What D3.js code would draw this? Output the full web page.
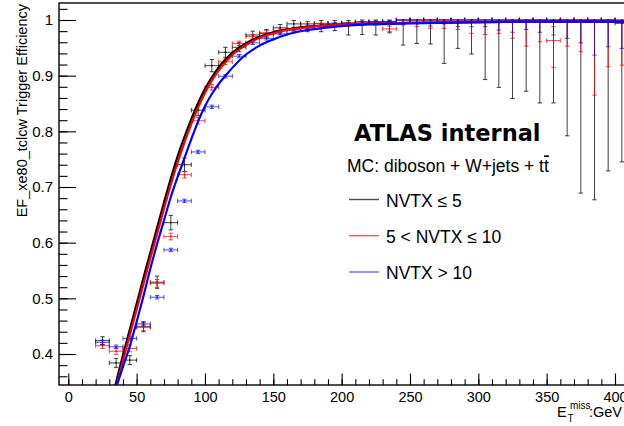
<!DOCTYPE html>
<html>
<head>
<meta charset="utf-8">
<script src="https://cdn.jsdelivr.net/npm/d3@7"></script>
<style>
body { margin:0; background:#fff; }
text { font-family: "Liberation Sans", Arial, Helvetica, sans-serif; fill:#000; }
</style>
</head>
<body>
<div id="chart-area"></div>
<script>

// bin centres (10 GeV bins) and half width
var binCenter = [25,35,45,55,65,75,85,95,105,115,125,135,145,155,165,175,185,195,205,215,
                 225,235,245,255,265,275,285,295,305,315,325,335,345,355,365,375,385,395,405];
var binHalf = 5;

// NVTX <= 5
var effBlack = [0.424,0.384,0.389,0.449,0.529,0.636,0.740,0.838,0.918,0.942,0.951,0.973,0.976,0.986,0.993,0.993,0.994,0.994,0.995,0.997,
                0.997,0.997,1,1,1,1,1,1,1,1,1,1,1,1,1,1,1,1,0.994];
var hiBlack  = [0.007,0.008,0.008,0.009,0.011,0.013,0.012,0.010,0.011,0.009,0.008,0.007,0.007,0.006,0.006,0.004,0.005,0.005,0.004,0.003,
                0.003,0.003,0,0,0,0,0,0,0,0,0,0,0,0,0,0,0,0,0.004];
var loBlack  = [0.007,0.008,0.008,0.009,0.011,0.013,0.012,0.010,0.011,0.009,0.008,0.008,0.008,0.007,0.008,0.014,0.015,0.013,0.022,0.023,
                0.024,0.020,0.045,0.042,0.043,0.078,0.051,0.061,0.107,0.121,0.141,0.128,0.149,0.149,0.208,0.311,0.323,0.271,0.249];

// 5 < NVTX <= 10
var effRed = [0.415,0.405,0.410,0.448,0.527,0.611,0.722,0.819,0.879,0.925,0.958,0.970,0.977,0.981,0.984,0.988,0.991,0.992,0.993,0.994,
              0.995,0.984,1,1,1,1,1,1,1,1,1,1,1,0.963,1,1,1,1,1];
var hiRed  = [0.005,0.006,0.006,0.006,0.007,0.006,0.006,0.006,0.005,0.005,0.004,0.004,0.004,0.003,0.003,0.003,0.003,0.003,0.003,0.003,
              0.003,0.005,0,0,0,0,0,0,0,0,0,0,0,0.025,0,0,0,0,0];
var loRed  = [0.005,0.006,0.006,0.006,0.007,0.006,0.006,0.006,0.005,0.005,0.004,0.004,0.004,0.004,0.004,0.004,0.004,0.004,0.005,0.004,
              0.004,0.005,0.009,0.012,0.015,0.015,0.017,0.024,0.026,0.024,0.033,0.047,0.039,0.048,0.047,0.057,0.135,0.084,0.081];

// NVTX > 10
var effBlue = [0.421,0.413,0.428,0.454,0.502,0.587,0.675,0.763,0.844,0.899,0.935,0.959,0.967,0.975,0.982,0.986,0.989,0.992,0.993,0.995,
               0.996,0.997,1,1,1,1,1,1,1,1,1,1,1,1,1,1,1,1,1];
var hiBlue  = [0.004,0.003,0.003,0.003,0.003,0.003,0.003,0.003,0.003,0.003,0.003,0.003,0.003,0.002,0.002,0.002,0.002,0.002,0.002,0.002,
               0.002,0.002,0,0,0,0,0,0,0,0,0,0,0,0,0,0,0,0,0];
var loBlue  = [0.004,0.003,0.003,0.003,0.003,0.003,0.003,0.003,0.003,0.003,0.003,0.003,0.003,0.002,0.002,0.002,0.002,0.002,0.002,0.002,
               0.002,0.002,0.007,0.007,0.011,0.007,0.012,0.012,0.012,0.018,0.022,0.017,0.022,0.027,0.033,0.041,0.063,0.048,0.051];

// fitted curves
var fitX     = [33,40,45,50,55,60,65,70,75,80,85,90,95,100,105,110,115,120,130,140,150,160,175,195,220,250,300,350,410];
var fitBlack = [0.330,0.398,0.444,0.490,0.537,0.582,0.627,0.672,0.715,0.755,0.790,0.822,0.851,0.876,0.897,0.915,0.929,0.941,0.958,0.970,
                0.978,0.983,0.988,0.991,0.993,0.995,0.996,0.997,0.997];
var fitRed   = [0.320,0.388,0.434,0.480,0.526,0.572,0.616,0.661,0.704,0.744,0.780,0.813,0.843,0.869,0.891,0.909,0.924,0.937,0.955,0.968,
                0.976,0.982,0.987,0.991,0.993,0.995,0.996,0.997,0.997];
var fitBlue  = [0.325,0.377,0.414,0.458,0.504,0.553,0.598,0.640,0.682,0.718,0.752,0.786,0.818,0.845,0.867,0.885,0.900,0.914,0.938,0.954,
                0.965,0.974,0.982,0.988,0.992,0.994,0.996,0.997,0.997];

var xTicks = [0,50,100,150,200,250,300,350,400];
var yTicks = [0.4,0.5,0.6,0.7,0.8,0.9,1];

var legendLabels = ["NVTX \u2264 5", "5 < NVTX \u2264 10", "NVTX > 10"];

var W = 624, H = 426;
var frame = { left:59, top:3, bottom:385 };

var svg = d3.select("#chart-area")
    .append("svg")
    .attr("width", W)
    .attr("height", H);

var x = d3.scaleLinear().domain([0, 400]).range([68.3, 615]);
var y = d3.scaleLinear().domain([0.4, 1]).range([354, 20]);

var frameRight = x(410);

svg.append("defs").append("clipPath").attr("id", "clip")
    .append("rect")
    .attr("x", frame.left).attr("y", frame.top)
    .attr("width", frameRight - frame.left).attr("height", frame.bottom - frame.top);

// axes, ROOT style ticks inside the frame
var yMinor = d3.range(0.36, 1.021, 0.02);
var xMinor = d3.range(0, 411, 10);

svg.append("g")
    .attr("transform", "translate(" + frame.left + ",0)")
    .call(d3.axisLeft(y).tickValues(yMinor).tickSize(-8.5).tickFormat(""))
    .call(function(g){ g.select(".domain").remove(); });

svg.append("g")
    .attr("transform", "translate(" + frame.left + ",0)")
    .call(d3.axisLeft(y).tickValues(yTicks).tickSize(-17).tickPadding(6)
        .tickFormat(function(d){ return d === 1 ? "1" : d3.format(".1f")(d); }))
    .call(function(g){ g.select(".domain").remove(); })
    .selectAll("text").style("font-size", "15px").style("font-family", "Liberation Sans, Arial, sans-serif");

svg.append("g")
    .attr("transform", "translate(0," + frame.bottom + ")")
    .call(d3.axisBottom(x).tickValues(xMinor).tickSize(-5.7).tickFormat(""))
    .call(function(g){ g.select(".domain").remove(); });

svg.append("g")
    .attr("transform", "translate(0," + frame.bottom + ")")
    .call(d3.axisBottom(x).tickValues(xTicks).tickSize(-11.5).tickPadding(6.5))
    .call(function(g){ g.select(".domain").remove(); })
    .selectAll("text").style("font-size", "14.5px").style("font-family", "Liberation Sans, Arial, sans-serif");

svg.selectAll(".tick line").attr("stroke", "#000").attr("stroke-width", 1.1);

// frame
svg.append("rect")
    .attr("x", frame.left).attr("y", frame.top)
    .attr("width", frameRight - frame.left).attr("height", frame.bottom - frame.top)
    .attr("fill", "none").attr("stroke", "#000").attr("stroke-width", 1.4);

// data points with error bars
var plot = svg.append("g").attr("clip-path", "url(#clip)");

function drawPoints(eff, lo, hi, color, opacity)
{
    var g = plot.append("g")
        .attr("stroke", color)
        .attr("stroke-width", 1)
        .attr("stroke-opacity", opacity)
        .attr("fill", "none");

    var cap = 2.2;

    binCenter.forEach(function(c, i) {
        var cx = x(c), cy = y(eff[i]);
        var x0 = x(c - binHalf), x1 = x(c + binHalf);
        var yTop = y(eff[i] + hi[i]), yBot = y(eff[i] - lo[i]);

        g.append("line").attr("x1", x0).attr("x2", x1).attr("y1", cy).attr("y2", cy);
        g.append("line").attr("x1", x0).attr("x2", x0).attr("y1", cy - cap).attr("y2", cy + cap);
        g.append("line").attr("x1", x1).attr("x2", x1).attr("y1", cy - cap).attr("y2", cy + cap);

        g.append("line").attr("x1", cx).attr("x2", cx).attr("y1", yTop).attr("y2", yBot);
        if (hi[i] > 0)
            g.append("line").attr("x1", cx - cap).attr("x2", cx + cap).attr("y1", yTop).attr("y2", yTop);
        if (lo[i] > 0)
            g.append("line").attr("x1", cx - cap).attr("x2", cx + cap).attr("y1", yBot).attr("y2", yBot);

        g.append("rect").attr("x", cx - 0.8).attr("y", cy - 0.8).attr("width", 1.6).attr("height", 1.6)
            .attr("fill", color).attr("stroke", "none").attr("fill-opacity", opacity);
    });
}

drawPoints(effBlack, loBlack, hiBlack, "#000", 0.75);
drawPoints(effRed, loRed, hiRed, "#ff0000", 0.75);
drawPoints(effBlue, loBlue, hiBlue, "#0000ff", 0.7);

// fits
var line = d3.line().curve(d3.curveMonotoneX);

function drawFit(vals, color)
{
    plot.append("path")
        .attr("d", line(fitX.map(function(d, i){ return [x(d), y(vals[i])]; })))
        .attr("fill", "none")
        .attr("stroke", color)
        .attr("stroke-width", 2.2);
}

drawFit(fitBlack, "#000");
drawFit(fitRed, "#ff0000");
drawFit(fitBlue, "#0000ff");

// axis titles
svg.append("text")
    .attr("transform", "translate(27,4) rotate(-90)")
    .attr("text-anchor", "end")
    .style("font-size", "14.5px")
    .text("EF_xe80_tclcw Trigger Efficiency");

var xt = svg.append("g").style("font-size", "14.5px");
xt.append("text").attr("x", 557).attr("y", 417).text("E");
xt.append("text").attr("x", 567.5).attr("y", 421.5).style("font-size", "10px").text("T");
xt.append("text").attr("x", 570).attr("y", 409).style("font-size", "10px").text("miss");
xt.append("text").attr("x", 589).attr("y", 417).text(":GeV");

// labels and legend
svg.append("text")
    .attr("x", 354).attr("y", 140.5)
    .style("font-family", "DejaVu Sans, sans-serif")
    .style("font-weight", "bold")
    .style("font-size", "22.5px")
    .text("ATLAS internal");

var mc = svg.append("text")
    .attr("x", 347).attr("y", 172.3)
    .style("font-size", "17.5px")
    .text("MC: diboson + W+jets + t");
mc.append("tspan").style("text-decoration", "overline").text("t");

var legendColors = ["#222", "#ff3030", "#4040ff"];
var legendY = [199.5, 235.7, 272];

legendLabels.forEach(function(lab, i) {
    svg.append("line")
        .attr("x1", 349).attr("x2", 379)
        .attr("y1", legendY[i]).attr("y2", legendY[i])
        .attr("stroke", legendColors[i])
        .attr("stroke-opacity", 0.8)
        .attr("stroke-width", 1.4);
    svg.append("text")
        .attr("x", 386).attr("y", legendY[i] + 7.3)
        .style("font-size", "17.5px")
        .text(lab);
});

</script>
</body>
</html>
